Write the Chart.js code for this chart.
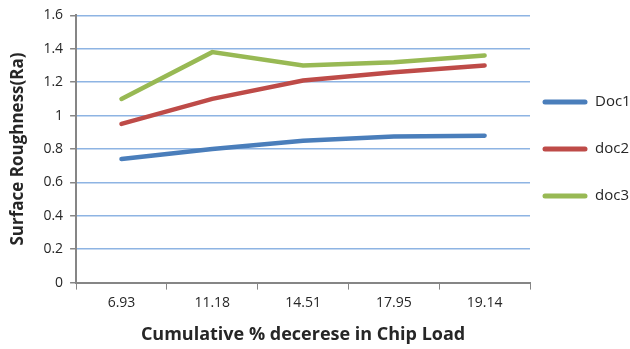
<!DOCTYPE html>
<html>
<head>
<meta charset="utf-8">
<script src="https://cdn.jsdelivr.net/npm/chart.js@4/dist/chart.umd.min.js"></script>
<style>
  html, body { margin: 0; padding: 0; background: #fff; }
  #wrap { width: 630px; height: 349px; }
</style>
</head>
<body>
<div id="wrap"><canvas id="grafic"></canvas></div>
<script>
// dades llegides del gràfic
const categories = ['6.93', '11.18', '14.51', '17.95', '19.14'];
const doc1 = [0.74, 0.80, 0.85, 0.875, 0.88];
const doc2 = [0.95, 1.10, 1.21, 1.26, 1.30];
const doc3 = [1.10, 1.38, 1.30, 1.32, 1.36];
const yTicks = [0, 0.2, 0.4, 0.6, 0.8, 1, 1.2, 1.4, 1.6];

const colBlau = '#4a7ebb';
const colVermell = '#be4b48';
const colVerd = '#98b954';

Chart.defaults.font.family = "'Open Sans', 'Noto Sans', sans-serif";
Chart.defaults.color = '#262626';

function serie(nom, dades, color) {
    return {
        label: nom,
        data: dades,
        borderColor: color,
        backgroundColor: color,
        borderWidth: 4.5,
        pointRadius: 0,
        tension: 0,
        borderCapStyle: 'round'
    };
}

// llegenda a mà, a la dreta de l'àrea del gràfic
const llegendaDreta = {
    id: 'llegendaDreta',
    afterDraw(chart) {
        const c = chart.ctx;
        const area = chart.chartArea;
        const mig = (area.top + area.bottom) / 2;
        const x0 = area.right + 13;
        c.save();
        c.font = "15px 'Open Sans', 'Noto Sans', sans-serif";
        c.textBaseline = 'middle';
        chart.data.datasets.forEach((ds, i) => {
            const y = mig + (i - 1) * 47;
            c.strokeStyle = ds.borderColor;
            c.lineWidth = 5;
            c.lineCap = 'round';
            c.beginPath();
            c.moveTo(x0 + 2, y);
            c.lineTo(x0 + 42, y);
            c.stroke();
            c.fillStyle = '#262626';
            c.fillText(ds.label, x0 + 52, y);
        });
        c.restore();
    }
};

const ctx = document.getElementById('grafic').getContext('2d');
new Chart(ctx, {
    type: 'line',
    data: {
        labels: categories,
        datasets: [
            serie('Doc1', doc1, colBlau),
            serie('doc2', doc2, colVermell),
            serie('doc3', doc3, colVerd)
        ]
    },
    options: {
        responsive: true,
        maintainAspectRatio: false,
        animation: false,
        layout: { padding: { top: 12, right: 100, left: 8, bottom: 3 } },
        plugins: {
            tooltip: { enabled: false },
            legend: { display: false }
        },
        scales: {
            x: {
                offset: true,
                grid: {
                    offset: true,
                    drawOnChartArea: false,
                    drawTicks: true,
                    tickLength: 7,
                    tickColor: '#868686'
                },
                border: { color: '#868686', width: 2 },
                ticks: { font: { size: 14 }, padding: 5 },
                title: {
                    display: true,
                    text: 'Cumulative % decerese in Chip Load',
                    font: { size: 18, weight: 'bold' },
                    padding: { top: 8, bottom: 0 }
                }
            },
            y: {
                min: 0,
                max: 1.6,
                afterBuildTicks: axis => { axis.ticks = yTicks.map(v => ({ value: v })); },
                grid: {
                    color: '#8eb4e3',
                    lineWidth: 1.5,
                    tickLength: 6,
                    tickColor: '#868686'
                },
                border: { color: '#868686', width: 2 },
                ticks: {
                    font: { size: 14 },
                    padding: 7,
                    callback: v => String(v)
                },
                title: {
                    display: true,
                    text: 'Surface Roughness(Ra)',
                    font: { size: 17, weight: 'bold' },
                    padding: { top: 0, bottom: 8 }
                }
            }
        }
    },
    plugins: [llegendaDreta]
});
</script>
</body>
</html>
